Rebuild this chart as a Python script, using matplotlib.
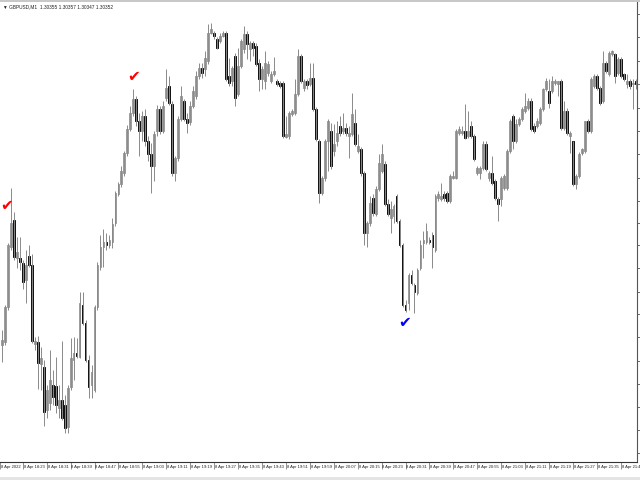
import numpy as np
import matplotlib
matplotlib.use("Agg")
import matplotlib.pyplot as plt
from matplotlib import transforms

# GBPUSD M1 candles, prices in points above 1.30000
BASE = 1.30000
POINT = 0.00001

open_pts = [90, 93, 128, 188, 216, 177, 177, 172, 155, 179,
            170, 91, 93, 71, 68, 25, 32, 50, 49, 27,
            35, 30, 8, 48, 75, 82, 78, 130, 112, 75,
            50, 45, 128, 168, 188, 193, 190, 193, 213, 242,
            252, 263, 283, 307, 323, 337, 315, 305, 320, 295,
            282, 270, 305, 327, 305, 338, 350, 332, 263, 278,
            317, 335, 317, 314, 330, 340, 360, 368, 367, 375,
            403, 403, 397, 395, 400, 403, 360, 355, 380, 342,
            370, 387, 402, 387, 393, 390, 373, 357, 355, 363,
            355, 362, 355, 353, 353, 299, 300, 322, 323, 342,
            380, 348, 355, 352, 358, 327, 295, 243, 258, 295,
            305, 285, 295, 310, 305, 308, 300, 302, 313, 285,
            287, 263, 202, 213, 238, 222, 247, 265, 272, 232,
            218, 220, 240, 215, 190, 130, 132, 160, 150, 142,
            167, 192, 193, 195, 200, 185, 238, 237, 242, 243,
            235, 258, 258, 303, 303, 305, 300, 310, 300, 263,
            263, 268, 292, 258, 263, 255, 237, 237, 248, 248,
            285, 320, 295, 312, 317, 325, 328, 335, 310, 310,
            313, 327, 347, 345, 345, 353, 352, 355, 308, 325,
            300, 295, 252, 260, 283, 285, 315, 305, 350, 360,
            348, 335, 373, 362, 382, 382, 363, 377, 362, 352,
            355, 352, 355]
high_pts = [105, 130, 192, 248, 224, 198, 198, 175, 185, 190,
            181, 98, 99, 88, 75, 50, 85, 65, 78, 50,
            94, 40, 50, 97, 98, 97, 143, 143, 115, 80,
            70, 130, 173, 200, 207, 202, 200, 218, 245, 254,
            270, 285, 311, 330, 347, 340, 323, 325, 327, 300,
            293, 305, 331, 330, 335, 367, 360, 335, 280, 320,
            350, 337, 323, 335, 350, 365, 373, 373, 385, 412,
            413, 405, 399, 403, 405, 405, 378, 370, 383, 388,
            397, 410, 405, 395, 395, 393, 377, 370, 385, 375,
            365, 379, 357, 355, 355, 320, 325, 327, 357, 387,
            382, 357, 357, 373, 373, 329, 297, 260, 297, 317,
            313, 312, 315, 320, 323, 313, 310, 343, 327, 302,
            289, 265, 215, 240, 242, 250, 282, 292, 275, 237,
            235, 232, 242, 217, 192, 135, 162, 165, 152, 167,
            195, 205, 213, 198, 203, 242, 245, 253, 245, 245,
            262, 265, 307, 310, 310, 332, 325, 315, 302, 270,
            270, 295, 295, 265, 280, 257, 239, 260, 262, 287,
            317, 322, 317, 319, 329, 343, 338, 338, 313, 318,
            329, 348, 358, 357, 360, 357, 355, 357, 335, 328,
            305, 295, 262, 284, 288, 315, 317, 359, 362, 362,
            350, 385, 375, 385, 386, 383, 379, 379, 363, 362,
            357, 357, 357]
low_pts = [73, 90, 125, 185, 175, 167, 165, 146, 132, 168,
           92, 85, 46, 45, 9, 17, 25, 30, 22, 17,
           15, 2, 2, 45, 55, 77, 77, 110, 73, 37,
           37, 43, 125, 165, 168, 185, 187, 187, 210, 240,
           249, 260, 280, 305, 320, 310, 280, 295, 290, 275,
           243, 255, 300, 302, 303, 335, 331, 260, 255, 275,
           315, 315, 303, 311, 328, 337, 357, 358, 360, 372,
           402, 397, 387, 393, 399, 355, 350, 350, 330, 340,
           368, 383, 377, 375, 380, 370, 345, 347, 347, 360,
           353, 360, 350, 348, 298, 298, 297, 320, 321, 340,
           353, 345, 347, 350, 325, 295, 233, 241, 255, 265,
           267, 280, 290, 300, 302, 300, 278, 300, 290, 283,
           260, 190, 188, 210, 220, 220, 245, 263, 230, 220,
           202, 213, 213, 188, 128, 123, 125, 150, 122, 140,
           165, 177, 191, 191, 167, 183, 235, 235, 235, 233,
           233, 257, 257, 301, 301, 297, 298, 298, 275, 261,
           257, 266, 265, 255, 251, 236, 215, 230, 246, 246,
           283, 287, 293, 310, 315, 323, 326, 305, 303, 308,
           311, 325, 345, 328, 343, 351, 340, 306, 306, 301,
           283, 250, 247, 258, 281, 283, 303, 303, 348, 346,
           331, 333, 363, 360, 380, 353, 361, 358, 355, 348,
           347, 327, 347]
close_pts = [95, 128, 190, 213, 178, 183, 173, 153, 170, 170,
             94, 94, 72, 77, 23, 45, 55, 38, 30, 35,
             17, 7, 47, 77, 82, 79, 132, 112, 75, 48,
             63, 128, 170, 188, 193, 190, 195, 212, 243, 252,
             265, 283, 307, 323, 337, 315, 305, 320, 295, 282,
             270, 302, 327, 305, 330, 348, 333, 263, 278, 317,
             340, 317, 313, 330, 345, 360, 368, 363, 378, 403,
             407, 400, 388, 400, 403, 357, 353, 368, 338, 370,
             395, 402, 392, 393, 388, 372, 357, 367, 373, 372,
             362, 365, 352, 350, 300, 302, 323, 325, 342, 380,
             355, 355, 351, 358, 327, 297, 243, 258, 295, 315,
             270, 292, 303, 303, 308, 303, 303, 322, 292, 290,
             263, 202, 213, 233, 223, 247, 273, 282, 232, 222,
             227, 230, 215, 190, 130, 125, 160, 152, 143, 165,
             190, 195, 205, 193, 188, 240, 242, 240, 238, 235,
             260, 260, 305, 307, 305, 298, 305, 300, 277, 268,
             268, 292, 267, 263, 253, 238, 232, 258, 260, 285,
             315, 295, 312, 317, 327, 330, 335, 307, 305, 315,
             327, 347, 355, 333, 355, 355, 355, 308, 325, 303,
             303, 252, 260, 282, 287, 315, 305, 357, 360, 348,
             333, 373, 365, 383, 385, 360, 377, 360, 357, 355,
             350, 353, 352]

# time axis labels (every 8 bars) and signal arrows
time_labels = ["8 Apr 2022", "8 Apr 18:23", "8 Apr 18:31", "8 Apr 18:39", "8 Apr 18:47",
               "8 Apr 18:55", "8 Apr 19:03", "8 Apr 19:11", "8 Apr 19:19", "8 Apr 19:27",
               "8 Apr 19:35", "8 Apr 19:43", "8 Apr 19:51", "8 Apr 19:59", "8 Apr 20:07",
               "8 Apr 20:15", "8 Apr 20:23", "8 Apr 20:31", "8 Apr 20:39", "8 Apr 20:47",
               "8 Apr 20:55", "8 Apr 21:03", "8 Apr 21:11", "8 Apr 21:19", "8 Apr 21:27",
               "8 Apr 21:35", "8 Apr 21:43"]
label_bars = [-0.5] + list(range(7, 208, 8))
sell_bars = [3, 44]
buy_bars = [135]
price_ticks = [1.29982, 1.30005, 1.30028, 1.30051, 1.30074, 1.30098, 1.30121,
               1.30143, 1.30167, 1.30190, 1.30213, 1.30235, 1.30258, 1.30282,
               1.30305, 1.30328, 1.30352, 1.30375, 1.30399, 1.30422]

o = BASE + np.array(open_pts) * POINT
h = BASE + np.array(high_pts) * POINT
l = BASE + np.array(low_pts) * POINT
c = BASE + np.array(close_pts) * POINT
idx = np.arange(len(o))
up = c >= o

fig = plt.figure(figsize=(6.4, 4.8), dpi=100)
ax = fig.add_axes([0, 18 / 480, 637 / 640, 460 / 480])

wick_col = "#8a8a8a"
ax.vlines(idx, l, h, color=wick_col, linewidth=0.7)
body_h = np.maximum(np.abs(c - o), 0.4 * POINT)
body_b = np.minimum(o, c)
ax.bar(idx[up], body_h[up], bottom=body_b[up], width=0.62,
       facecolor="white", edgecolor=wick_col, linewidth=0.6)
ax.bar(idx[~up], body_h[~up], bottom=body_b[~up], width=0.62,
       facecolor="black", edgecolor="black", linewidth=0.6)

# signal check marks
for b, dx, dy in zip(sell_bars, [-3, 0], [-13, 9]):
    ax.annotate("\u2714", (b, h[b]), xytext=(dx, dy), textcoords="offset points",
                ha="center", va="center", color="red", fontsize=11)
for b in buy_bars:
    ax.annotate("\u2714", (b, l[b]), xytext=(-1, -7), textcoords="offset points",
                ha="center", va="center", color="blue", fontsize=11)

ax.set_xlim(-0.6, 212.4)
ax.set_ylim(l.min() - 29 * POINT, h.max() + 21 * POINT)

for s in ["left", "top"]:
    ax.spines[s].set_visible(False)
ax.spines["bottom"].set_color("#333333")
ax.spines["right"].set_color("#555555")
ax.spines["bottom"].set_linewidth(0.8)
ax.spines["right"].set_linewidth(0.8)

ax.set_xticks(label_bars)
ax.tick_params(axis="x", length=5, width=0.5, color="#666666", labelbottom=False)
ax.yaxis.tick_right()
ax.set_yticks(price_ticks)
ax.tick_params(axis="y", length=2.5, width=0.6, color="#555555", labelright=False)

small_font = ["Liberation Sans", "DejaVu Sans"]
trans = transforms.blended_transform_factory(ax.transData, ax.transAxes)
for b, lab in zip(label_bars, time_labels):
    ax.text(b + 0.3, -0.006, lab, transform=trans, ha="left", va="top",
            fontsize=3.0, family=small_font, color="#222222")

ax.text(0.004, 0.995, "\u25bc GBPUSD,M1  1.30355 1.30357 1.30347 1.30352",
        transform=ax.transAxes, ha="left", va="top", fontsize=3.4,
        family=small_font, color="#222222")

# window frame bits
fig.add_artist(plt.Rectangle((0, 1 - 2 / 480), 1, 2 / 480, transform=fig.transFigure,
                             facecolor="#c8c8c8", edgecolor="none"))
fig.add_artist(plt.Rectangle((0, 0), 1, 3 / 480, transform=fig.transFigure,
                             facecolor="#e4e4e4", edgecolor="none"))

fig.savefig("out.png", dpi=100)
